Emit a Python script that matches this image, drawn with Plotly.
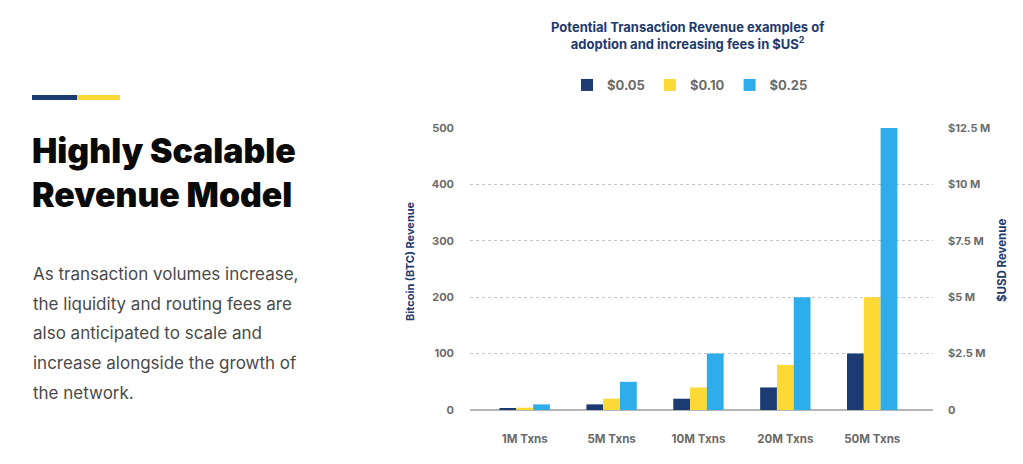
import plotly.graph_objects as go

categories = ["1M Txns", "5M Txns", "10M Txns", "20M Txns", "50M Txns"]
series_names = ["$0.05", "$0.10", "$0.25"]
btc_005 = [2, 10, 20, 40, 100]
btc_010 = [4, 20, 40, 80, 200]
btc_025 = [10, 50, 100, 200, 500]
usd_m_025 = [0.25, 1.25, 2.5, 5, 12.5]
left_ticks = [0, 100, 200, 300, 400, 500]
right_tickvals = [0, 2.5, 5, 7.5, 10, 12.5]
right_ticktext = ["0", "$2.5 M", "$5 M", "$7.5 M", "$10 M", "$12.5 M"]

heading_lines = ["Highly Scalable", "Revenue Model"]
body_lines = [
    "As transaction volumes increase,",
    "the liquidity and routing fees are",
    "also anticipated to scale and",
    "increase alongside the growth of",
    "the network.",
]

colors = ["#1c3b73", "#fcd935", "#2daeea"]
NAVY = "#1e3a6e"
GRAY = "#6b6b6b"
FONT = "Inter"
W, H = 1023, 464

fig = go.Figure()
for name, vals, col in zip(series_names, [btc_005, btc_010, btc_025], colors):
    fig.add_trace(go.Bar(x=categories, y=vals, name=name,
                         marker=dict(color=col, line=dict(width=0)), yaxis="y"))
fig.add_trace(go.Scatter(x=categories, y=usd_m_025, yaxis="y2", mode="markers",
                         marker=dict(opacity=0), showlegend=False, hoverinfo="skip"))

def px(x):
    return x / W

def py(y):
    return 1 - y / H

annotations = []
annotations.append(dict(
    text="Potential Transaction Revenue examples of<br>adoption and increasing fees in $US<sup>2</sup>",
    x=px(688), y=py(35), xref="paper", yref="paper", showarrow=False,
    xanchor="center", yanchor="middle", align="center",
    font=dict(family=FONT, size=13, color=NAVY, weight=700)))
annotations.append(dict(text="Bitcoin (BTC) Revenue", x=px(410), y=py(261),
    xref="paper", yref="paper", showarrow=False, textangle=-90,
    xanchor="center", yanchor="middle",
    font=dict(family=FONT, size=11, color=NAVY, weight=700)))
annotations.append(dict(text="$USD Revenue", x=px(1002), y=py(261),
    xref="paper", yref="paper", showarrow=False, textangle=-90,
    xanchor="center", yanchor="middle",
    font=dict(family=FONT, size=11.5, color=NAVY, weight=700)))
for i, line in enumerate(heading_lines):
    annotations.append(dict(text=line, x=px(30), y=py(150 + 44 * i),
        xref="paper", yref="paper", showarrow=False,
        xanchor="left", yanchor="middle",
        font=dict(family=FONT, size=33.8, color="#0a0a0a", weight=900)))
for i, line in enumerate(body_lines):
    annotations.append(dict(text=line, x=px(31), y=py(274 + 29.7 * i),
        xref="paper", yref="paper", showarrow=False,
        xanchor="left", yanchor="middle",
        font=dict(family=FONT, size=17, color="#4a4a4a", weight=400)))

shapes = [
    dict(type="rect", xref="paper", yref="paper", x0=px(32), x1=px(77),
         y0=py(100), y1=py(95), fillcolor="#1c3b73", line=dict(width=0)),
    dict(type="rect", xref="paper", yref="paper", x0=px(77), x1=px(120),
         y0=py(100), y1=py(95), fillcolor="#fcd935", line=dict(width=0)),
]

fig.update_layout(
    width=W, height=H, autosize=False,
    margin=dict(l=0, r=0, t=0, b=0, pad=0, autoexpand=False),
    paper_bgcolor="white", plot_bgcolor="white",
    barmode="group", bargap=0.42, bargroupgap=0,
    showlegend=True,
    legend=dict(orientation="h", x=px(690), y=py(85), xanchor="center",
                yanchor="middle", font=dict(family=FONT, size=13, color=GRAY, weight=700),
                itemwidth=30, traceorder="normal"),
    xaxis=dict(domain=[px(470), px(933)], range=[-0.63, 4.70], showgrid=False,
               showline=False, ticks="", ticklabelstandoff=20, automargin=False,
               tickfont=dict(family=FONT, size=11.5, color=GRAY, weight=700), fixedrange=True),
    yaxis=dict(domain=[py(410), py(128)], range=[0, 500], tickvals=left_ticks,
               showgrid=True, gridcolor="#c4c4c4", griddash="dot", gridwidth=1,
               zeroline=True, zerolinecolor="#b5b5b5", zerolinewidth=1.5,
               showline=False, ticks="", ticklabelstandoff=15, automargin=False,
               tickfont=dict(family=FONT, size=11, color=GRAY, weight=700), fixedrange=True),
    yaxis2=dict(domain=[py(410), py(128)], range=[0, 12.5], overlaying="y", side="right",
                tickvals=right_tickvals, ticktext=right_ticktext, showgrid=False,
                zeroline=False, showline=False, ticks="", ticklabelstandoff=14, automargin=False,
                tickfont=dict(family=FONT, size=11, color=GRAY, weight=700), fixedrange=True),
    annotations=annotations, shapes=shapes,
)

fig.write_html("out.html", config={"displayModeBar": False},
               post_script="document.body.style.margin='0';document.body.style.overflow='hidden';")
